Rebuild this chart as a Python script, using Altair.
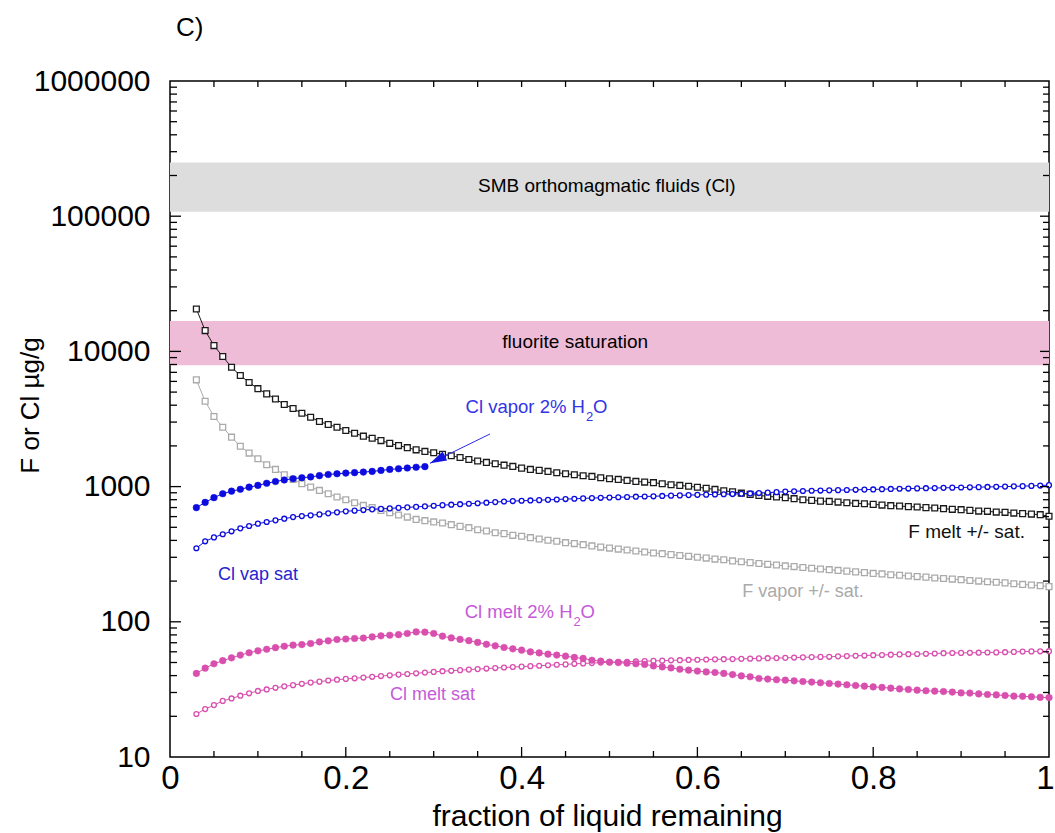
import altair as alt
import pandas as pd

# Plot area size in pixels
W, H = 879, 676

SANS = "Liberation Sans, Arial, sans-serif"

# fraction of liquid remaining, one model step every 0.01 from 0.03 to 1.00
frac = [round(0.03 + 0.01 * i, 2) for i in range(98)]
frac_vapor_2pct = frac[:27]  # 0.03 .. 0.29

# F in melt (+/- fluorite saturation), ug/g
f_melt = [
    20600, 14250, 11040, 9160, 7630, 6630, 5890, 5300, 4850, 4450,
    4050, 3780, 3490, 3260, 3030, 2880, 2750, 2600, 2480, 2360,
    2280, 2190, 2090, 2010, 1940, 1870, 1820, 1780, 1735, 1690,
    1640, 1585, 1545, 1510, 1475, 1440, 1410, 1370, 1340, 1318,
    1295, 1267, 1245, 1224, 1203, 1189, 1163, 1143, 1130, 1111,
    1092, 1080, 1069, 1050, 1032, 1020, 1005, 990, 972, 953,
    932, 914, 894, 876, 861, 847, 837, 828, 814, 800,
    791, 781, 777, 768, 760, 751, 747, 739, 730, 723,
    718, 711, 706, 699, 694, 687, 679, 675, 667, 659,
    656, 648, 645, 637, 631, 626, 620, 603,
]

# F in vapor (+/- fluorite saturation), ug/g
f_vapor = [
    6160, 4280, 3300, 2750, 2320, 1990, 1770, 1607, 1451, 1340,
    1224, 1130, 1051, 992, 937, 886, 837, 800, 760, 726,
    699, 667, 642, 616, 595, 572, 560, 548, 538, 523,
    508, 497, 480, 469, 456, 449, 436, 429, 419, 410,
    401, 394, 385, 379, 372, 364, 357, 351, 345, 340,
    334, 328, 323, 319, 314, 309, 305, 300, 296, 291,
    288, 282, 278, 274, 270, 266, 263, 259, 256, 252,
    249, 246, 243, 240, 237, 234, 231, 228, 226, 223,
    221, 218, 216, 214, 211, 209, 207, 205, 202, 200,
    198, 196, 194, 191, 189, 187, 185, 182,
]

# Cl in vapor, saturated case, ug/g
cl_vap_sat = [
    350, 394, 421, 444, 467, 491, 511, 532, 547, 563,
    579, 595, 605, 613, 623, 634, 645, 656, 664, 671,
    679, 684, 690, 696, 702, 708, 714, 722, 729, 735,
    741, 747, 753, 760, 768, 776, 782, 786, 790, 794,
    798, 803, 809, 813, 818, 823, 826, 829, 834, 838,
    842, 845, 848, 853, 857, 861, 865, 869, 872, 875,
    878, 881, 885, 890, 896, 902, 910, 918, 924, 928,
    932, 935, 938, 941, 944, 947, 950, 953, 957, 961,
    964, 967, 970, 973, 976, 979, 982, 985, 988, 991,
    994, 997, 1000, 1004, 1008, 1012, 1018, 1025,
]

# Cl in vapor, 2% H2O case (0.03 .. 0.29), ug/g
cl_vapor_2pct = [
    699, 764, 828, 886, 925, 955, 990, 1021, 1058, 1090,
    1120, 1144, 1163, 1180, 1205, 1228, 1245, 1258, 1268, 1280,
    1295, 1317, 1340, 1356, 1372, 1390, 1405,
]

# Cl in melt, 2% H2O case, ug/g
cl_melt_2pct = [
    41.5, 45.4, 48.9, 51.6, 54.1, 56.7, 59.0, 61.0, 62.6, 64.4,
    66.0, 67.2, 67.8, 69.1, 71.0, 72.3, 74.0, 74.6, 75.3, 75.8,
    77.3, 78.7, 79.6, 80.3, 82.0, 84.2, 83.8, 82.0, 78.3, 76.0,
    74.1, 72.5, 70.4, 68.1, 66.4, 64.6, 63.1, 61.7, 59.9, 58.9,
    57.6, 56.7, 55.7, 54.5, 53.6, 52.0, 51.2, 50.3, 49.9, 49.4,
    48.9, 48.4, 47.2, 46.4, 45.6, 44.6, 43.9, 43.2, 42.6, 42.2,
    41.5, 40.7, 39.8, 39.2, 38.1, 37.7, 37.3, 37.0, 36.6, 36.2,
    35.8, 35.4, 35.0, 34.6, 34.2, 33.8, 33.4, 33.0, 32.7, 32.3,
    31.9, 31.6, 31.2, 30.9, 30.7, 30.5, 30.2, 29.8, 29.7, 29.3,
    29.0, 28.8, 28.5, 28.2, 28.1, 27.9, 27.6, 27.5,
]

# Cl in melt, saturated case, ug/g
cl_melt_sat = [
    20.8, 22.6, 24.2, 26.0, 27.1, 28.4, 29.6, 30.8, 31.6, 32.5,
    33.3, 34.0, 34.8, 35.5, 36.1, 36.8, 37.3, 37.8, 38.2, 38.7,
    39.2, 39.7, 40.2, 40.7, 41.1, 41.6, 42.1, 42.6, 43.1, 43.4,
    43.9, 44.3, 44.7, 45.1, 45.5, 45.9, 46.3, 46.6, 47.0, 47.3,
    47.7, 48.1, 48.4, 48.9, 49.2, 49.5, 49.9, 50.2, 50.5, 50.6,
    50.9, 51.2, 51.4, 51.6, 51.9, 52.0, 52.2, 52.4, 52.6, 52.8,
    52.9, 53.0, 53.2, 53.4, 53.6, 53.8, 53.9, 54.1, 54.4, 54.6,
    54.8, 55.0, 55.1, 55.5, 55.8, 56.1, 56.3, 56.6, 56.8, 57.1,
    57.4, 57.6, 57.8, 58.0, 58.3, 58.6, 58.8, 58.9, 59.0, 59.1,
    59.3, 59.4, 59.6, 59.9, 60.2, 60.4, 60.5, 60.6,
]

# Reference ranges drawn as horizontal bands
band_names = ["SMB orthomagmatic fluids (Cl)", "fluorite saturation"]
band_low = [108000, 7900]
band_high = [250000, 16800]
band_fill = ["#dcdddc", "#efbcd7"]
band_label_x = [0.497, 0.461]
band_label_v = [167000, 11700]

# Tick positions
y_labels = [10, 100, 1000, 10000, 100000, 1000000]
y_major = [100, 1000, 10000, 100000]
y_minor = [m * 10 ** e for e in range(1, 6) for m in range(2, 10)]
x_labels = [0, 0.2, 0.4, 0.6, 0.8, 1]
x_major = [0.2, 0.4, 0.6, 0.8]
x_minor = [0.05, 0.1, 0.15, 0.25, 0.3, 0.35, 0.45, 0.5, 0.55,
           0.65, 0.7, 0.75, 0.85, 0.9, 0.95]

BLACK = "#1a1a1a"
GRAY = "#aaaaaa"
BLUE = "#0c0ce0"
PINK = "#d94fae"

xscale = alt.Scale(domain=[0, 1], nice=False, zero=False)
yscale = alt.Scale(type="log", domain=[10, 1000000], nice=False)

x_axis = alt.Axis(
    values=x_labels, format="~g", labelFont=SANS, labelFontSize=33,
    labelPadding=5, labelFlush=False, labelOverlap=False, labelColor="black",
    labelBaseline="top", ticks=False, tickSize=0, domain=False, grid=False,
    # keep the last label ("1") inside the right edge
    labelOffset={"condition": {"test": "datum.value == 1", "value": -4}, "value": 0},
    title="fraction of liquid remaining", titleFont=SANS, titleFontSize=30,
    titleFontWeight="normal", titleColor="black", titleX=437, titleY=59,
    titleAlign="center", titleBaseline="middle",
)
y_axis = alt.Axis(
    values=y_labels, format="d", labelFont=SANS, labelFontSize=30,
    labelPadding=20, labelOverlap=False, labelColor="black",
    labelBaseline="middle", ticks=False, tickSize=0, domain=False, grid=False,
    title="F or Cl µg/g", titleFont=SANS, titleFontSize=26,
    titleFontWeight="normal", titleColor="black", titleAngle=270,
    titleX=-140, titleY=324, titleAlign="center", titleBaseline="middle",
)


def X(field="x"):
    return alt.X(f"{field}:Q", scale=xscale, axis=x_axis)


def Y(field="v"):
    return alt.Y(f"{field}:Q", scale=yscale, axis=y_axis)


def series(xs, vs):
    return pd.DataFrame({"x": xs, "v": vs})


bands = pd.DataFrame({"name": band_names, "lo": band_low, "hi": band_high,
                      "fill": band_fill, "lx": band_label_x, "lv": band_label_v})

band_rects = alt.Chart(bands).mark_rect().encode(
    x=alt.value(0), x2=alt.value(W),
    y=Y("lo"), y2="hi:Q",
    color=alt.Color("fill:N", scale=None),
)
band_text = alt.Chart(bands).mark_text(
    font=SANS, fontSize=19, color="black", baseline="middle", align="center"
).encode(x=X("lx"), y=Y("lv"), text="name:N")


def curve(df, color, shape, filled_marker, size, sw=1.3):
    line = alt.Chart(df).mark_line(color=color, strokeWidth=1).encode(x=X(), y=Y())
    if filled_marker:
        pts = alt.Chart(df).mark_point(
            shape=shape, filled=True, fill=color, stroke=color,
            strokeWidth=0.5, size=size, opacity=1,
        )
    else:
        pts = alt.Chart(df).mark_point(
            shape=shape, filled=True, fill="white", stroke=color,
            strokeWidth=sw, size=size, opacity=1,
        )
    return [line, pts.encode(x=X(), y=Y())]


layers = [band_rects, band_text]
layers += curve(series(frac, f_vapor), GRAY, "square", False, 34)
layers += curve(series(frac, f_melt), BLACK, "square", False, 34)
layers += curve(series(frac, cl_melt_sat), PINK, "circle", False, 24)
layers += curve(series(frac, cl_melt_2pct), PINK, "circle", True, 44)
layers += curve(series(frac, cl_vap_sat), BLUE, "circle", False, 24)
layers += curve(series(frac_vapor_2pct, cl_vapor_2pct), BLUE, "circle", True, 44)

# Curve annotations
left_labels = pd.DataFrame({
    "text": ["Cl vap sat", "Cl melt sat", "F vapor +/- sat."],
    "x": [0.0546, 0.2503, 0.651],
    "v": [222, 28.7, 166],
    "color": ["#2525d0", "#c45ad8", "#aaaaaa"],
})
right_labels = pd.DataFrame({
    "text": ["F melt +/- sat."],
    "x": [0.9727],
    "v": [462],
    "color": ["#111111"],
})
h2o_labels = pd.DataFrame({
    "text": ["Cl vapor 2% H", "Cl melt 2% H"],
    "x": [0.472, 0.458],
    "v": [3880, 118],
    "color": ["#3333e6", "#c45ad8"],
})

layers.append(alt.Chart(left_labels).mark_text(
    font=SANS, fontSize=18, align="left", baseline="middle"
).encode(x=X(), y=Y(), text="text:N", color=alt.Color("color:N", scale=None)))
layers.append(alt.Chart(right_labels).mark_text(
    font=SANS, fontSize=19, align="right", baseline="middle"
).encode(x=X(), y=Y(), text="text:N", color=alt.Color("color:N", scale=None)))
layers.append(alt.Chart(h2o_labels).mark_text(
    font=SANS, fontSize=18.5, align="right", baseline="middle"
).encode(x=X(), y=Y(), text="text:N", color=alt.Color("color:N", scale=None)))
layers.append(alt.Chart(h2o_labels).mark_text(
    font=SANS, fontSize=13, align="left", baseline="middle", dx=1, dy=10
).encode(x=X(), y=Y(), text=alt.value("2"), color=alt.Color("color:N", scale=None)))
layers.append(alt.Chart(h2o_labels).mark_text(
    font=SANS, fontSize=18.5, align="left", baseline="middle", dx=8
).encode(x=X(), y=Y(), text=alt.value("O"), color=alt.Color("color:N", scale=None)))

# Arrow pointing at the end of the 2% H2O vapor curve
arrow = pd.DataFrame({"x": [0.364], "v": [2449], "x2": [0.2958], "v2": [1487]})
layers.append(alt.Chart(arrow).mark_rule(color="#2a2ae8", strokeWidth=1).encode(
    x=X(), y=Y(), x2="x2:Q", y2="v2:Q"))
layers.append(alt.Chart(arrow).mark_point(
    shape="M0,0L0.55,1.8L-0.55,1.8Z", filled=True, color="#1414e0",
    size=340, angle=244, opacity=1,
).encode(x=X("x2"), y=Y("v2")))

# Inward tick marks on all four sides
tick_style = dict(color="black", strokeWidth=1.3)
ymaj = pd.DataFrame({"v": y_major})
ymin = pd.DataFrame({"v": y_minor})
xmaj = pd.DataFrame({"x": x_major})
xmin = pd.DataFrame({"x": x_minor})
xall = pd.DataFrame({"x": x_major + x_minor})
layers += [
    alt.Chart(ymaj).mark_rule(**tick_style).encode(y=Y(), x=alt.value(0), x2=alt.value(11)),
    alt.Chart(ymin).mark_rule(**tick_style).encode(y=Y(), x=alt.value(0), x2=alt.value(7)),
    alt.Chart(ymaj).mark_rule(**tick_style).encode(y=Y(), x=alt.value(W - 9), x2=alt.value(W)),
    alt.Chart(ymin).mark_rule(**tick_style).encode(y=Y(), x=alt.value(W - 6), x2=alt.value(W)),
    alt.Chart(xmaj).mark_rule(**tick_style).encode(x=X(), y=alt.value(H), y2=alt.value(H - 10)),
    alt.Chart(xmin).mark_rule(**tick_style).encode(x=X(), y=alt.value(H), y2=alt.value(H - 6)),
    alt.Chart(xall).mark_rule(**tick_style).encode(x=X(), y=alt.value(0), y2=alt.value(6)),
]

# Panel letter above the plot's top-left corner
panel = pd.DataFrame({"t": ["C)"]})
layers.append(alt.Chart(panel).mark_text(
    font=SANS, fontSize=26, align="left", baseline="middle", color="black"
).encode(text="t:N", x=alt.value(6), y=alt.value(-53)))

chart = alt.layer(*layers).properties(
    width=W,
    height=H,
    padding={"left": 170, "top": 81, "right": 6, "bottom": 76},
    autosize=alt.AutoSizeParams(type="none"),
    background="white",
).configure_view(stroke="black", strokeWidth=1.5)

chart.save("out.html", embed_options={"renderer": "svg", "actions": False})
